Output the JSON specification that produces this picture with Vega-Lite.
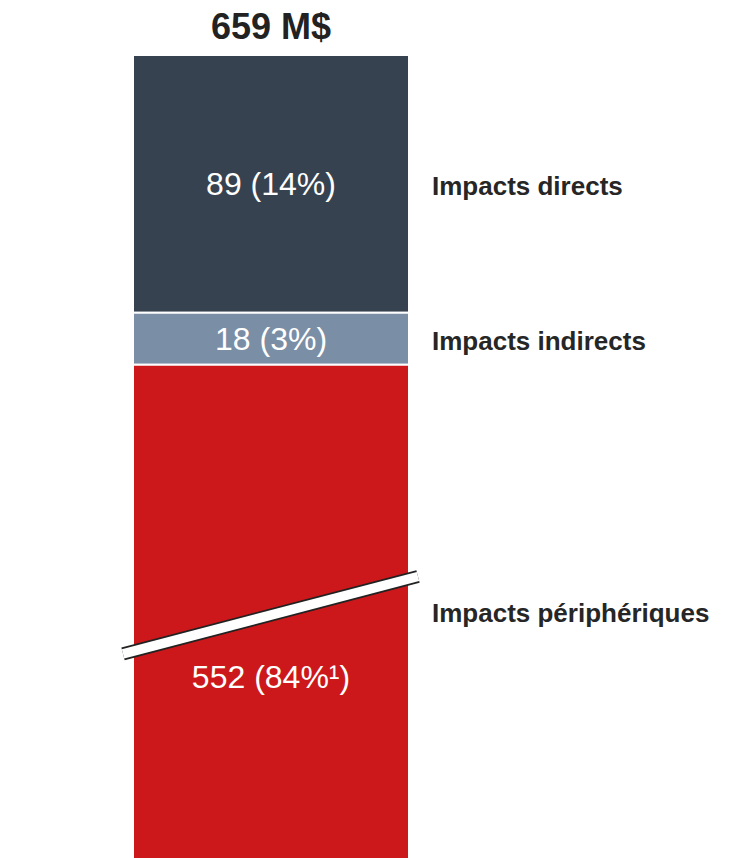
{
  "$schema": "https://vega.github.io/schema/vega-lite/v6.json",
  "width": 729,
  "height": 803,
  "autosize": {"type": "none"},
  "padding": {"left": 0, "right": 0, "top": 55, "bottom": 0},
  "background": "white",
  "config": {"view": {"stroke": null}, "font": "Liberation Sans"},
  "data": {"values": [
    {"cat": "Impacts directs", "value": 89, "label": "89 (14%)", "ord": 1},
    {"cat": "Impacts indirects", "value": 18, "label": "18 (3%)", "ord": 2},
    {"cat": "Impacts périphériques", "value": 552, "label": "552 (84%¹)", "ord": 3}
  ]},
  "transform": [
    {"stack": "value", "groupby": [], "as": ["y0", "y1"], "sort": [{"field": "ord", "order": "ascending"}]},
    {"calculate": "(datum.y0 + min(datum.y1, 277.3)) / 2", "as": "mid"}
  ],
  "layer": [
    {
      "mark": {"type": "bar", "clip": true, "stroke": "white", "strokeWidth": 2},
      "encoding": {
        "x": {"datum": 0, "type": "quantitative", "scale": {"domain": [-0.4819, 2.1594], "nice": false, "zero": false}, "axis": null},
        "x2": {"datum": 1},
        "y": {"field": "y0", "type": "quantitative", "scale": {"domain": [0, 277.3], "reverse": true, "nice": false, "zero": false}, "axis": null},
        "y2": {"field": "y1"},
        "color": {"field": "cat", "type": "nominal", "scale": {"domain": ["Impacts directs", "Impacts indirects", "Impacts périphériques"], "range": ["#36424f", "#7a8ea6", "#cc181a"]}, "legend": null}
      }
    },
    {
      "data": {"values": [{"xa": -0.0362, "xb": 1.0326, "ya": 206.8, "yb": 180.1}]},
      "transform": [],
      "mark": {"type": "rule", "color": "#222222", "strokeWidth": 13},
      "encoding": {
        "x": {"field": "xa", "type": "quantitative"},
        "x2": {"field": "xb"},
        "y": {"field": "ya", "type": "quantitative"},
        "y2": {"field": "yb"}
      }
    },
    {
      "data": {"values": [{"xa": -0.0362, "xb": 1.0326, "ya": 206.8, "yb": 180.1}]},
      "transform": [],
      "mark": {"type": "rule", "color": "white", "strokeWidth": 9.5},
      "encoding": {
        "x": {"field": "xa", "type": "quantitative"},
        "x2": {"field": "xb"},
        "y": {"field": "ya", "type": "quantitative"},
        "y2": {"field": "yb"}
      }
    },
    {
      "transform": [{"filter": "datum.ord < 3"}],
      "mark": {"type": "text", "color": "white", "fontSize": 32, "align": "center", "baseline": "middle", "dy": 1},
      "encoding": {
        "x": {"datum": 0.5, "type": "quantitative"},
        "y": {"field": "mid", "type": "quantitative"},
        "text": {"field": "label"}
      }
    },
    {
      "transform": [{"filter": "datum.ord == 3"}],
      "mark": {"type": "text", "color": "white", "fontSize": 32, "align": "center", "baseline": "middle", "dy": 67},
      "encoding": {
        "x": {"datum": 0.5, "type": "quantitative"},
        "y": {"field": "mid", "type": "quantitative"},
        "text": {"field": "label"}
      }
    },
    {
      "mark": {"type": "text", "color": "#262626", "fontSize": 26, "fontWeight": "bold", "align": "left", "baseline": "middle", "dx": 23, "dy": 3},
      "encoding": {
        "x": {"datum": 1, "type": "quantitative"},
        "y": {"field": "mid", "type": "quantitative"},
        "text": {"field": "cat"}
      }
    },
    {
      "data": {"values": [{"total": "659 M$"}]},
      "transform": [],
      "mark": {"type": "text", "color": "#222222", "fontSize": 36, "fontWeight": "bold", "align": "center", "baseline": "alphabetic", "dy": -16},
      "encoding": {
        "x": {"datum": 0.5, "type": "quantitative"},
        "y": {"datum": 0, "type": "quantitative"},
        "text": {"field": "total"}
      }
    }
  ]
}
